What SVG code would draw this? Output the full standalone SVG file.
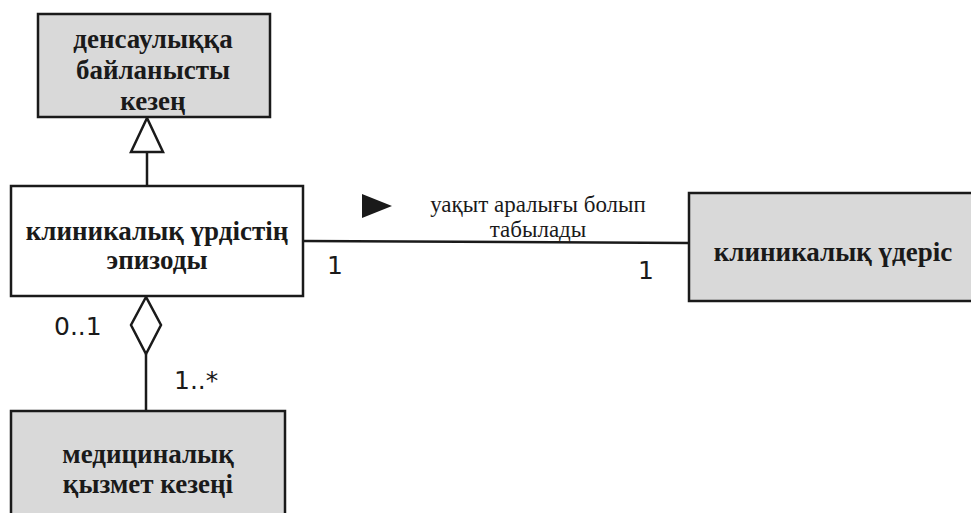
<svg xmlns="http://www.w3.org/2000/svg" width="971" height="513" viewBox="0 0 971 513">
<style>
.box{stroke:#1a1a1a;stroke-width:2.5}
.gray{fill:#d9d9d9}
.white{fill:#ffffff}
.t{font-family:"Liberation Serif","DejaVu Serif",serif;font-weight:bold;font-size:27px;fill:#1a1a1a;text-anchor:middle}
.lbl{font-family:"Liberation Serif","DejaVu Serif",serif;font-size:23px;fill:#1a1a1a;text-anchor:middle}
.m{font-family:"DejaVu Sans","Liberation Sans",sans-serif;font-size:25px;fill:#1a1a1a}
.ln{stroke:#1a1a1a;stroke-width:2.5;fill:none}
</style>
<rect width="971" height="513" fill="#ffffff"/>
<g id="connectors">
  <line class="ln" x1="147" y1="152" x2="147" y2="186"/>
  <polygon class="ln" fill="#ffffff" points="147,118 131,152 163,152"/>
  <line class="ln" x1="146" y1="354" x2="146" y2="411"/>
  <polygon class="ln" fill="#ffffff" points="146,297 131,325 146,354 161,325"/>
  <line class="ln" x1="303" y1="241" x2="689" y2="243"/>
  <polygon fill="#1a1a1a" points="362,194 392,206 362,218"/>
  <text class="lbl" x="538" y="212">уақыт аралығы болып</text>
  <text class="lbl" x="538" y="237">табылады</text>
  <text class="m" x="327" y="274">1</text>
  <text class="m" x="638" y="279">1</text>
  <text class="m" x="54" y="335">0..1</text>
  <text class="m" x="174" y="389">1..*</text>
</g>
<g id="node-densaulyq">
  <rect class="box gray" x="38" y="14" width="232" height="103"/>
  <text class="t" x="153" y="48">денсаулыққа</text>
  <text class="t" x="153" y="79">байланысты</text>
  <text class="t" x="153" y="110">кезең</text>
</g>
<g id="node-episode">
  <rect class="box white" x="11" y="186" width="292" height="110"/>
  <text class="t" x="157" y="240">клиникалық үрдістің</text>
  <text class="t" x="157" y="269">эпизоды</text>
</g>
<g id="node-process">
  <rect class="box gray" x="689" y="193" width="290" height="108"/>
  <text class="t" x="833" y="261">клиникалық үдеріс</text>
</g>
<g id="node-med">
  <rect class="box gray" x="11" y="411" width="274" height="110"/>
  <text class="t" x="148" y="463">медициналық</text>
  <text class="t" x="148" y="493">қызмет кезеңі</text>
</g>
</svg>
